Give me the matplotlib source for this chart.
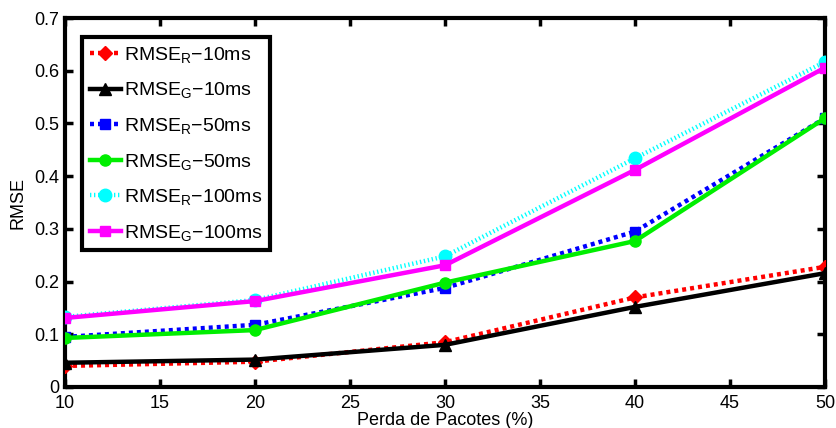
import matplotlib
matplotlib.use("Agg")
import matplotlib.pyplot as plt

# ----------------------------
# Daten
# ----------------------------
perda = [10, 20, 30, 40, 50]

rmse_r_10 = [0.040, 0.048, 0.085, 0.170, 0.228]
rmse_g_10 = [0.046, 0.052, 0.080, 0.152, 0.216]
rmse_r_50 = [0.095, 0.118, 0.188, 0.295, 0.510]
rmse_g_50 = [0.093, 0.108, 0.198, 0.277, 0.510]
rmse_r_100 = [0.133, 0.165, 0.248, 0.434, 0.617]
rmse_g_100 = [0.131, 0.163, 0.231, 0.412, 0.606]

labels = [
    "RMSE$_\\mathregular{R}$\u221210ms",
    "RMSE$_\\mathregular{G}$\u221210ms",
    "RMSE$_\\mathregular{R}$\u221250ms",
    "RMSE$_\\mathregular{G}$\u221250ms",
    "RMSE$_\\mathregular{R}$\u2212100ms",
    "RMSE$_\\mathregular{G}$\u2212100ms",
]

plt.rcParams["font.family"] = ["Liberation Sans", "DejaVu Sans"]
plt.rcParams["mathtext.default"] = "regular"

# ----------------------------
# Grafik
# ----------------------------
fig = plt.figure(figsize=(8.37, 4.28), dpi=100)
ax = fig.add_axes([0.0777, 0.0958, 0.908, 0.862])

LW = 3.2
ax.plot(perda, rmse_r_10, color="red", lw=LW, dashes=(0.9, 0.9),
        marker="D", ms=7, mfc="red", mec="red", label=labels[0], zorder=3)
ax.plot(perda, rmse_g_10, color="black", lw=LW, ls="-",
        marker="^", ms=9, mfc="black", mec="black", label=labels[1], zorder=4)
ax.plot(perda, rmse_r_50, color="blue", lw=LW, dashes=(0.9, 0.9),
        marker="s", ms=7.5, mfc="blue", mec="blue", label=labels[2], zorder=3)
ax.plot(perda, rmse_g_50, color="#00ee00", lw=LW, ls="-",
        marker="o", ms=8, mfc="#00ee00", mec="#00ee00", label=labels[3], zorder=4)
ax.plot(perda, rmse_r_100, color="cyan", lw=LW, dashes=(0.3, 0.6),
        marker="o", ms=9, mfc="cyan", mec="cyan", label=labels[4], zorder=3)
ax.plot(perda, rmse_g_100, color="magenta", lw=LW, ls="-",
        marker="s", ms=7.5, mfc="magenta", mec="magenta", label=labels[5], zorder=4)

ax.set_xlim(10, 50)
ax.set_ylim(0, 0.7)
ax.set_xticks(range(10, 51, 5))
ax.set_yticks([0, 0.1, 0.2, 0.3, 0.4, 0.5, 0.6, 0.7])
ax.set_yticklabels(["0", "0.1", "0.2", "0.3", "0.4", "0.5", "0.6", "0.7"])

for s in ax.spines.values():
    s.set_linewidth(3)
ax.tick_params(direction="in", length=6, width=2.5, labelsize=13,
               top=True, right=True)
ax.tick_params(axis="x", pad=6)
ax.tick_params(axis="y", pad=4)

ax.set_xlabel("Perda de Pacotes (%)", fontsize=13, labelpad=0)
ax.set_ylabel("RMSE", fontsize=13, labelpad=6)

leg = ax.legend(loc="upper left", bbox_to_anchor=(0.022, 0.9485), fontsize=14,
                handlelength=1.6, handletextpad=0.15, labelspacing=0.8,
                borderpad=0.4, borderaxespad=0, fancybox=False, framealpha=1,
                edgecolor="black", numpoints=1)
leg.get_frame().set_linewidth(3)

fig.savefig("out.png", dpi=100)
